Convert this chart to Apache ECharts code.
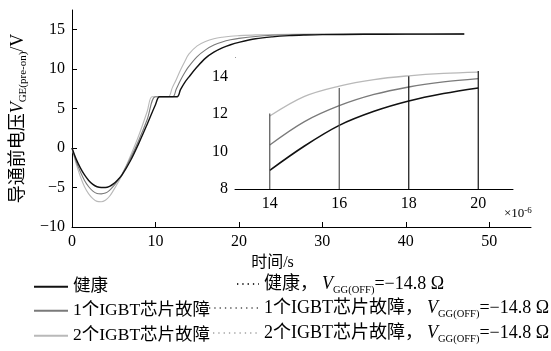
<!DOCTYPE html>
<html>
<head>
<meta charset="utf-8">
<script src="https://cdn.jsdelivr.net/npm/echarts@6/dist/echarts.min.js"></script>
<style>
html,body{margin:0;padding:0;background:#fff;}
#chart{width:551px;height:351px;}
</style>
</head>
<body>
<div id="chart"></div>
<script>
// ---- data ----
const xHealthy = [0,0.5,1,1.5,2,2.5,3,3.5,4,4.5,5,5.5,6,7,8,9,10,10.5,11.5,12.6,13,13.5,14,15,16,17,18,19,20,22,24,26,28,30,35,40,47];
const yHealthy = [0,-1.4,-2.5,-3.4,-4.1,-4.6,-4.9,-5.0,-5.0,-4.85,-4.5,-4.0,-3.4,-1.6,0.6,3.0,5.5,6.5,6.5,6.5,7.4,8.3,9.0,10.3,11.4,12.15,12.7,13.1,13.4,13.85,14.1,14.25,14.33,14.38,14.42,14.44,14.45];

const xOne = [0,0.5,1,1.5,2,2.5,3,3.5,4,4.5,5,5.5,6,7,8,9,10,11,12.06,12.5,13,13.5,14,15,16,17,18,19,20,22,24,26,30,35,47];
const yOne = [0,-1.7,-3.0,-4.1,-4.9,-5.45,-5.75,-5.8,-5.7,-5.35,-4.8,-4.1,-3.3,-1.3,1.0,3.6,6.5,6.5,6.5,7.5,8.6,9.55,10.35,11.6,12.45,13.05,13.45,13.72,13.9,14.15,14.3,14.37,14.42,14.44,14.45];

const xTwo = [0,0.5,1,1.5,2,2.5,3,3.5,4,4.5,5,5.5,6,7,8,9,9.6,10.5,11.54,12,12.5,13,13.5,14,15,16,17,18,19,20,22,24,28,35,47];
const yTwo = [0,-2.0,-3.6,-4.9,-5.8,-6.4,-6.75,-6.8,-6.6,-6.1,-5.3,-4.4,-3.4,-1.0,1.6,4.6,6.5,6.5,6.5,7.6,8.7,9.9,10.95,11.9,12.95,13.5,13.85,14.05,14.18,14.25,14.35,14.4,14.44,14.45,14.45];

const insetRange = [14, 20];
const insetXTicks = [14, 16, 18, 20];
const insetYTicks = [8, 10, 12, 14];
const dropX = [14, 16, 18, 20];
const dropTop = [12.04, 13.4, 14.03, 14.3];

const names = ['健康', '1个IGBT芯片故障', '2个IGBT芯片故障'];
const namesOff = ['健康，', '1个IGBT芯片故障，', '2个IGBT芯片故障，'];
const offValue = '=−14.8 Ω';

// ---- helpers ----
const zip = (xs, ys) => xs.map((x, i) => [x, ys[i]]);
const clipTo = (pts) => pts.filter(p => p[0] >= insetRange[0] && p[0] <= insetRange[1]);
const minus = v => String(v).replace('-', '−');

const colors = ['#111111', '#7a7a7a', '#b9b9b9'];
const widths = [1.4, 1.1, 1.1];
const serif = "Liberation Serif, Noto Sans CJK SC, serif";

const mainData = [zip(xHealthy, yHealthy), zip(xOne, yOne), zip(xTwo, yTwo)];
const offKeys = names.map(n => n + ' OFF');

const series = [];
[2, 1, 0].forEach(i => {
  series.push({
    name: names[i], type: 'line', xAxisIndex: 0, yAxisIndex: 0,
    data: mainData[i], symbol: 'none', smooth: 0.35, z: 3 + (2 - i),
    lineStyle: { color: colors[i], width: widths[i] }, itemStyle: { color: colors[i] }
  });
});
[2, 1, 0].forEach(i => {
  series.push({
    name: names[i] + '_inset', type: 'line', xAxisIndex: 1, yAxisIndex: 1,
    data: clipTo(mainData[i]), symbol: 'none', smooth: 0.35, z: 6 + (2 - i),
    lineStyle: { color: colors[i], width: widths[i] + 0.2 }
  });
});
[0, 1, 2].forEach(i => {
  series.push({
    name: offKeys[i], type: 'line', data: [], symbol: 'none',
    lineStyle: { color: i === 0 ? '#333' : colors[i], width: 1.2, type: [1.3, 4] },
    itemStyle: { color: colors[i] }
  });
});
series.push({
  type: 'custom', xAxisIndex: 1, yAxisIndex: 1, z: 10, silent: true,
  data: zip(dropX, dropTop),
  renderItem: (params, api) => {
    const a = api.coord([api.value(0), insetYTicks[0]]);
    const b = api.coord([api.value(0), api.value(1)]);
    return { type: 'line', shape: { x1: a[0], y1: a[1], x2: b[0], y2: b[1] },
      style: { stroke: params.dataIndex < 2 ? '#555' : '#111', lineWidth: 1.2 } };
  }
});

const subRich = {
  n: { fontFamily: serif, fontSize: 18, color: '#000' },
  v: { fontFamily: serif, fontSize: 18, fontStyle: 'italic', color: '#000' },
  s: { fontFamily: serif, fontSize: 11, color: '#000', padding: [10, 0, 0, 0] }
};
const legRich = {
  n: { fontFamily: serif, fontSize: 18, color: '#000' },
  c: { fontFamily: serif, fontSize: 18, color: '#000', padding: [0, 4, 0, 0] },
  v: { fontFamily: serif, fontSize: 18, fontStyle: 'italic', color: '#000' },
  s: { fontFamily: serif, fontSize: 10.5, color: '#000', padding: [12, 0, 0, 0] }
};
const rowTops = [278, 302, 327];
const leftStarts = [33, 33, 33];
const rightStarts = [236, 208, 212];
const legends = [];
names.forEach((n, i) => legends.push({
  data: [n], left: leftStarts[i], top: rowTops[i], padding: 0, itemWidth: 34, itemHeight: 12,
  itemStyle: { opacity: 0 },
  textStyle: { fontFamily: serif, fontSize: 17.5, color: '#000' }
}));
offKeys.forEach((n, i) => legends.push({
  data: [n], left: rightStarts[i], top: rowTops[i] - 3, padding: 0, itemWidth: 263 - 5 - rightStarts[i], itemHeight: 12,
  itemStyle: { opacity: 0 },
  formatter: () => '{c|' + namesOff[i] + '}{v|V}{s|GG(OFF)}{n|' + offValue + '}',
  textStyle: { rich: legRich }
}));

const option = {
  animation: false,
  backgroundColor: '#fff',
  grid: [
    { left: 72, top: 10, right: 20, bottom: 124 },
    { left: 235, top: 58, width: 278, height: 131, backgroundColor: '#fff', show: true, borderWidth: 0, z: 5 }
  ],
  xAxis: [
    {
      type: 'value', gridIndex: 0, min: 0, max: 55, interval: 10,
      name: '时间/s', nameLocation: 'middle', nameGap: 26,
      nameTextStyle: { fontFamily: serif, fontSize: 16, color: '#000', padding: [0, 58, 0, 0] },
      axisLine: { onZero: false, lineStyle: { color: '#000', width: 1 } },
      axisTick: { inside: true, length: 5, lineStyle: { color: '#000' } },
      axisLabel: { fontFamily: serif, fontSize: 16, color: '#000', margin: 7, showMaxLabel: false },
      splitLine: { show: false }
    },
    {
      type: 'value', gridIndex: 1, min: 13, max: 21,
      axisLine: { onZero: false, lineStyle: { color: '#000', width: 1 } },
      axisTick: { show: false },
      axisLabel: { fontFamily: serif, fontSize: 16, color: '#000', margin: 7, customValues: insetXTicks },
      splitLine: { show: false }
    }
  ],
  yAxis: [
    {
      type: 'value', gridIndex: 0, min: -10, max: 17.5, interval: 5,
      name: '{n|导通前电压}{v|V}{s|GE(pre-on)}{n|/V}', nameLocation: 'middle', nameGap: 43,
      nameTextStyle: { rich: subRich },
      axisLine: { onZero: false, lineStyle: { color: '#000', width: 1 } },
      axisTick: { inside: true, length: 5, lineStyle: { color: '#000' } },
      axisLabel: { fontFamily: serif, fontSize: 16, color: '#000', margin: 7, showMaxLabel: false, formatter: minus },
      splitLine: { show: false }
    },
    {
      type: 'value', gridIndex: 1, min: 8, max: 15,
      axisLine: { onZero: false, lineStyle: { color: '#000', width: 1 } },
      axisTick: { inside: true, length: 10, customValues: insetYTicks, lineStyle: { color: '#000' } },
      axisLabel: { fontFamily: serif, fontSize: 16, color: '#000', margin: 7, customValues: insetYTicks },
      splitLine: { show: false }
    }
  ],
  legend: legends,
  graphic: [
    {
      type: 'text', left: 504, top: 206,
      style: { text: '{a|×10}{b|-6}', rich: {
        a: { fontFamily: serif, fontSize: 13, fill: '#000' },
        b: { fontFamily: serif, fontSize: 9, fill: '#000', padding: [0, 0, 7, 0] }
      } }
    }
  ],
  series: series
};

const chart = echarts.init(document.getElementById('chart'), null, { renderer: 'canvas' });
chart.setOption(option);
</script>
</body>
</html>
